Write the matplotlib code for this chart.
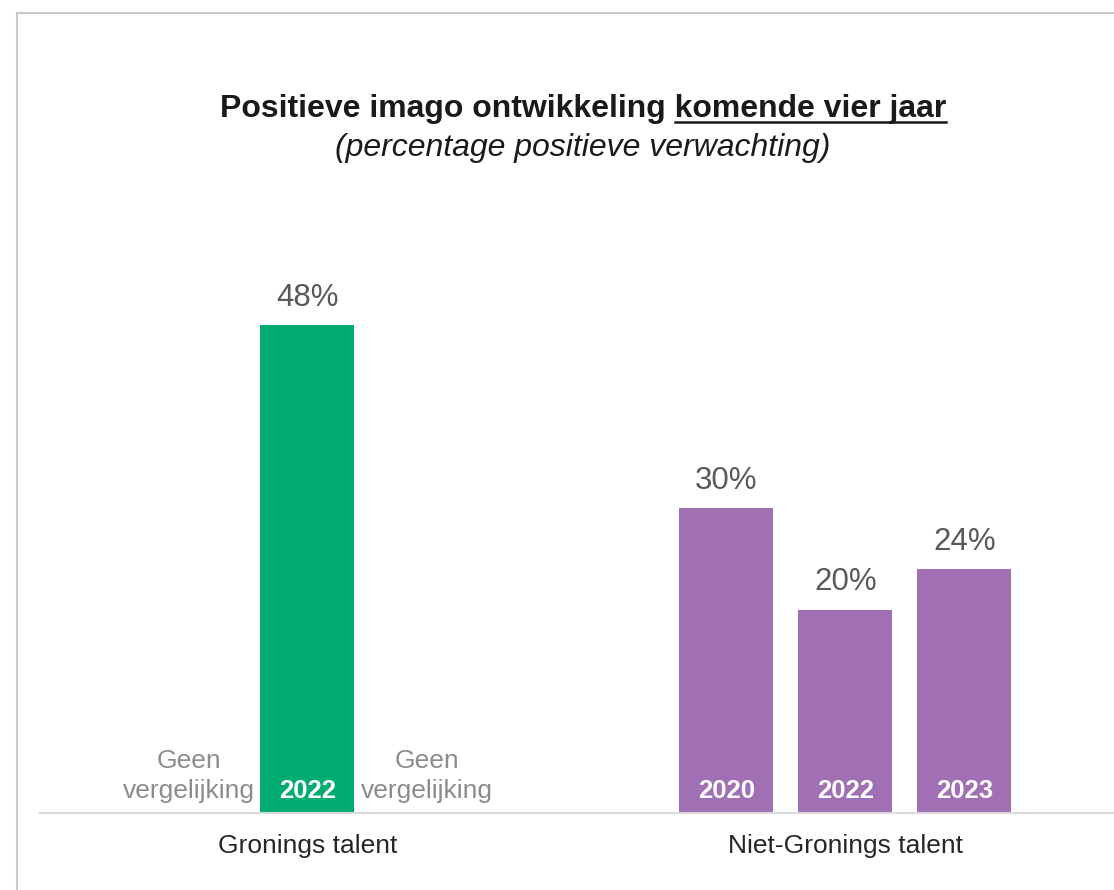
import matplotlib.pyplot as plt
from matplotlib.patches import Rectangle

plt.rcParams['font.family'] = ['Liberation Sans', 'DejaVu Sans']

groups = ['Gronings talent', 'Niet-Gronings talent']
gron_years = ['2022']
gron_vals = [48]
niet_years = ['2020', '2022', '2023']
niet_vals = [30, 20, 24]
no_compare = 'Geen\nvergelijking'

green = '#00ac74'
purple = '#a06fb4'

fig = plt.figure(figsize=(11.14, 8.9), dpi=100)
ax = fig.add_axes([40 / 1114, 77 / 890, 1073 / 1114, 610 / 890])

# frame around the chart area (runs off right/bottom like the screenshot)
fig.patches.append(Rectangle((17 / 1114, -0.1), 1.2, 877 / 890 + 0.1,
                             transform=fig.transFigure, fill=False,
                             edgecolor='#c8c8c8', linewidth=1.5))

w = 0.79
g_center = 0.0
n_center = 4.52
gx = [g_center]
nx = [n_center - 1, n_center, n_center + 1]

ax.bar(gx, gron_vals, width=w, color=green)
ax.bar(nx, niet_vals, width=w, color=purple)

for x, v, yr in zip(gx, gron_vals, gron_years):
    ax.text(x, v + 1.2, f'{v}%', ha='center', va='bottom', fontsize=22.5, color='#595959')
    ax.text(x, 1.0, yr, ha='center', va='bottom', fontsize=18.5, color='white', fontweight='bold')
for x, v, yr in zip(nx, niet_vals, niet_years):
    ax.text(x, v + 1.2, f'{v}%', ha='center', va='bottom', fontsize=22.5, color='#595959')
    ax.text(x, 1.0, yr, ha='center', va='bottom', fontsize=18.5, color='white', fontweight='bold')

for x in [g_center - 1, g_center + 1]:
    ax.text(x, 1.0, no_compare, ha='center', va='bottom', fontsize=19,
            color='#8c8c8c', linespacing=1.3)

ax.set_xlim(-2.248, 6.77)
ax.set_ylim(0, 60)
ax.set_xticks([g_center, n_center])
ax.set_xticklabels(groups, fontsize=19, color='#262626')
ax.tick_params(axis='x', length=0, pad=15)
ax.set_yticks([])
for s in ['top', 'right', 'left']:
    ax.spines[s].set_visible(False)
ax.spines['bottom'].set_color('#d9d9d9')
ax.spines['bottom'].set_linewidth(1.5)

# title with underlined tail
tsize = 23
title = fig.text(583 / 1114, 1 - 117 / 890, 'Positieve imago ontwikkeling komende vier jaar',
                 ha='center', va='baseline', fontsize=tsize, fontweight='bold', color='#1a1a1a')
fig.text(583 / 1114, 1 - 148 / 890, '(percentage positieve verwachting)',
         ha='center', va='center', fontsize=tsize, style='italic', color='#1a1a1a')

fig.canvas.draw()
r = fig.canvas.get_renderer()
tb = title.get_window_extent(r)
tmp = fig.text(0, 0, 'komende vier jaar', fontsize=tsize, fontweight='bold')
tw = tmp.get_window_extent(r).width
tmp.remove()
y_ul = 1 - 122 / 890
fig.add_artist(plt.Line2D([(tb.x1 - tw) / fig.bbox.width, tb.x1 / fig.bbox.width],
                          [y_ul, y_ul], color='#1a1a1a', linewidth=1.8))

fig.savefig('out.png', dpi=100)
